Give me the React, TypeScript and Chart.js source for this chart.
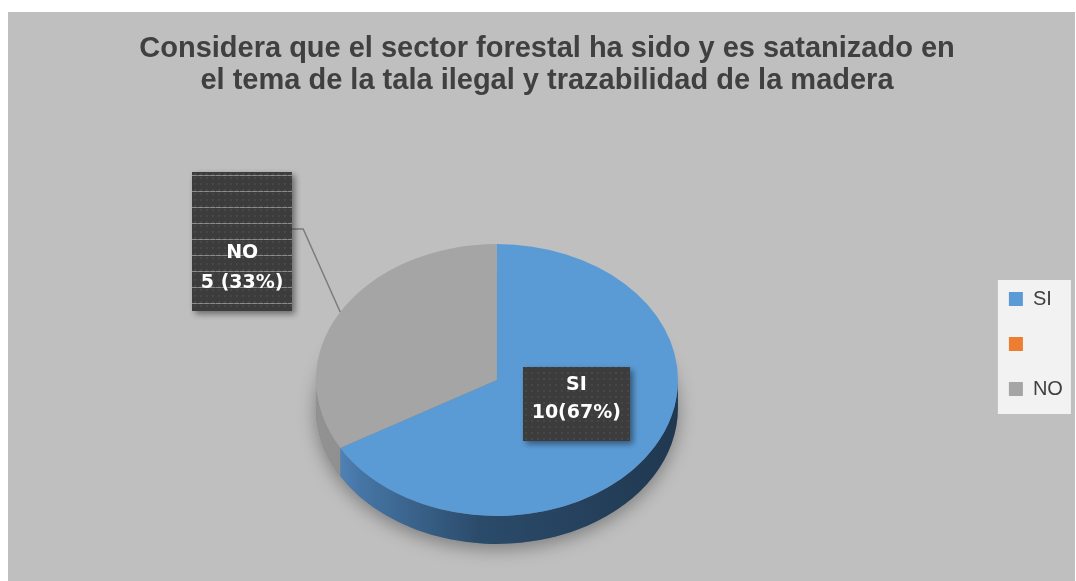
import React, { useEffect, useRef } from 'react';
import Chart from 'chart.js/auto';

// ---------- data ----------
const titleLines = [
  'Considera que el sector forestal ha sido y es satanizado en',
  'el tema de la tala ilegal y trazabilidad de la madera',
];
const categories = ['SI', '', 'NO'];
const counts = [10, 0, 5];
const sliceColors = ['#5b9bd5', '#ed7d31', '#a5a5a5'];
const valueSeparators = ['', '', ' '];

// ---------- layout / style ----------
const CANVAS_W = 1076;
const CANVAS_H = 569;
const PANEL_W = 1067;
const TILT = 0.751;
const DEPTH = 28;

const sideGradients: [number, string][][] = [
  [[0, '#5b90c4'], [0.12, '#4676a6'], [0.45, '#2b4b6b'], [1, '#203850']],
  [[0, '#c06428'], [1, '#7a3d14']],
  [[0, '#929292'], [1, '#747474']],
];

type LabelLayout = {
  kind: 'inside' | 'callout';
  r?: number;
  dx: number;
  dy: number;
  w: number;
  h: number;
  firstLine: number;
  gap: number;
  stripes: boolean;
  leaderDy?: number;
  elbow?: number;
};

const labelLayouts: (LabelLayout | null)[] = [
  { kind: 'inside', r: 0.5, dx: 1, dy: -10, w: 107, h: 74, firstLine: -19, gap: 28, stripes: false },
  null,
  { kind: 'callout', dx: -98, dy: -70.5, w: 100, h: 139, firstLine: 11.5, gap: 30, stripes: true, leaderDy: -12.5, elbow: 11 },
];

function makeBoxFill(ctx: CanvasRenderingContext2D, stripes: boolean, ox: number, oy: number) {
  const t = document.createElement('canvas');
  t.width = 6;
  t.height = stripes ? 16 : 6;
  const c = t.getContext('2d')!;
  c.fillStyle = '#3c3c3c';
  c.fillRect(0, 0, t.width, t.height);
  c.fillStyle = '#474747';
  for (let yy = 2; yy < t.height; yy += 6) c.fillRect(2, yy, 2, 2);
  if (stripes) {
    c.fillStyle = '#8c8c8c';
    c.fillRect(0, 0, 5, 1);
    c.fillStyle = '#6a6a6a';
    c.fillRect(5, 0, 1, 1);
  }
  const pat = ctx.createPattern(t, 'repeat')!;
  pat.setTransform(new DOMMatrix([1, 0, 0, 1, ox, oy]));
  return pat;
}

function drawSides(chart: any) {
  const meta = chart.getDatasetMeta(0);
  const arcs = meta.data;
  if (!arcs.length) return;
  const ctx: CanvasRenderingContext2D = chart.ctx;
  const { x: cx, y: cy, outerRadius: R } = arcs[0];
  const ry = R * TILT;

  // soft shadow under the pie
  ctx.save();
  ctx.shadowColor = 'rgba(0,0,0,0.35)';
  ctx.shadowBlur = 18;
  ctx.shadowOffsetY = 5;
  ctx.fillStyle = '#7a7a7a';
  ctx.beginPath();
  ctx.ellipse(cx, cy + DEPTH, R, ry, 0, 0, Math.PI * 2);
  ctx.fill();
  ctx.restore();

  arcs.forEach((arc: any, i: number) => {
    const s = arc.startAngle;
    const e = arc.endAngle;
    if (e - s <= 0) return;
    for (const base of [-2 * Math.PI, 0, 2 * Math.PI]) {
      const a = Math.max(s, base);
      const b = Math.min(e, base + Math.PI);
      if (b <= a) continue;
      const grad = ctx.createLinearGradient(cx - R, 0, cx + R, 0);
      sideGradients[i].forEach(([o, c]) => grad.addColorStop(o, c));
      ctx.fillStyle = grad;
      ctx.beginPath();
      ctx.ellipse(cx, cy, R, ry, 0, a - base, b - base, false);
      ctx.ellipse(cx, cy + DEPTH, R, ry, 0, b - base, a - base, true);
      ctx.closePath();
      ctx.fill();
    }
  });
}

function drawLabels(chart: any) {
  const ctx: CanvasRenderingContext2D = chart.ctx;
  const meta = chart.getDatasetMeta(0);
  const data: number[] = chart.data.datasets[0].data;
  const total = data.reduce((a, b) => a + b, 0);
  meta.data.forEach((arc: any, i: number) => {
    const v = data[i];
    const p = labelLayouts[i];
    if (!v || !p) return;
    const { x: cx, y: cy, outerRadius: R } = arc;
    const mid = (arc.startAngle + arc.endAngle) / 2;
    let bx: number;
    let by: number;
    ctx.save();
    if (p.kind === 'callout') {
      const ex = cx + R * Math.cos(mid);
      const ey = cy + R * TILT * Math.sin(mid);
      bx = ex + p.dx;
      by = ey + p.dy;
      const right = bx + p.w / 2;
      ctx.strokeStyle = '#7c7c7c';
      ctx.lineWidth = 1.5;
      ctx.beginPath();
      ctx.moveTo(ex, ey);
      ctx.lineTo(right + (p.elbow || 0), by + (p.leaderDy || 0));
      ctx.lineTo(right, by + (p.leaderDy || 0));
      ctx.stroke();
    } else {
      bx = cx + (p.r || 0.5) * R * Math.cos(mid) + p.dx;
      by = cy + (p.r || 0.5) * R * TILT * Math.sin(mid) + p.dy;
    }
    const x0 = Math.round(bx - p.w / 2);
    const y0 = Math.round(by - p.h / 2);
    ctx.save();
    ctx.shadowColor = 'rgba(0,0,0,0.45)';
    ctx.shadowBlur = 6;
    ctx.shadowOffsetX = 3;
    ctx.shadowOffsetY = 3;
    ctx.fillStyle = makeBoxFill(ctx, p.stripes, x0, y0 + 3);
    ctx.fillRect(x0, y0, p.w, p.h);
    ctx.restore();

    const pct = Math.round((v / total) * 100);
    const lines = [String(chart.data.labels[i]), `${v}${valueSeparators[i]}(${pct}%)`];
    ctx.fillStyle = '#ffffff';
    ctx.font = "bold 19px 'DejaVu Sans', sans-serif";
    ctx.textAlign = 'center';
    ctx.textBaseline = 'middle';
    lines.forEach((ln, k) => ctx.fillText(ln, bx, by + p.firstLine + k * p.gap));
    ctx.restore();
  });
}

const panelPlugin = {
  id: 'panelBg',
  beforeDraw(chart: any) {
    const ctx: CanvasRenderingContext2D = chart.ctx;
    ctx.save();
    ctx.fillStyle = '#bfbfbf';
    ctx.fillRect(0, 0, PANEL_W, chart.height);
    const lg = chart.legend;
    if (lg && lg.legendHitBoxes && lg.legendHitBoxes.length) {
      const hbs = lg.legendHitBoxes;
      const first = hbs[0];
      const last = hbs[hbs.length - 1];
      const h = last.top + last.height - first.top + 24;
      ctx.fillStyle = '#f2f2f2';
      ctx.fillRect(first.left - 11, first.top - 9, 73, h);
    }
    ctx.restore();
  },
};

const pie3dPlugin = {
  id: 'pie3d',
  beforeDatasetsDraw(chart: any) {
    drawSides(chart);
    const arc = chart.getDatasetMeta(0).data[0];
    const ctx: CanvasRenderingContext2D = chart.ctx;
    ctx.save();
    ctx.translate(arc.x, arc.y);
    ctx.scale(1, TILT);
    ctx.translate(-arc.x, -arc.y);
  },
  afterDatasetsDraw(chart: any) {
    chart.ctx.restore();
    drawLabels(chart);
  },
};

export default function App() {
  const ref = useRef<HTMLCanvasElement>(null);
  useEffect(() => {
    const canvas = ref.current;
    if (!canvas) return;
    const ov: any = (Chart as any).overrides;
    const baseGen = (ov.pie && ov.pie.plugins && ov.pie.plugins.legend && ov.pie.plugins.legend.labels.generateLabels) ||
      ov.doughnut.plugins.legend.labels.generateLabels;
    const chart = new Chart(canvas, {
      type: 'pie',
      data: {
        labels: categories,
        datasets: [{ data: counts, backgroundColor: sliceColors, borderWidth: 0, hoverOffset: 0 }],
      },
      options: {
        responsive: false,
        animation: false,
        events: [],
        layout: { padding: { left: 2, right: 0, top: 0, bottom: 20 } },
        plugins: {
          tooltip: { enabled: false },
          title: {
            display: true,
            text: titleLines,
            color: '#404040',
            font: { family: "'Liberation Sans', Arial, sans-serif", size: 29, weight: 'bold', lineHeight: 32 / 29 },
            padding: { top: 20.5, bottom: 102.5 },
          },
          legend: {
            display: true,
            position: 'right',
            align: 'start',
            title: { display: true, text: '', padding: { top: 240, bottom: 0 }, font: { size: 10, lineHeight: 1.2 } },
            labels: {
              boxWidth: 14,
              boxHeight: 14,
              padding: 25,
              color: '#404040',
              font: { family: "'Liberation Sans', Arial, sans-serif", size: 20 },
              generateLabels: (c: any) =>
                baseGen(c).map((it: any) => ({ ...it, text: it.text + '  ', lineWidth: 0 })),
            },
          },
        },
      } as any,
      plugins: [panelPlugin, pie3dPlugin],
    });
    return () => chart.destroy();
  }, []);
  return (
    <div style={{ position: 'fixed', left: 8, top: 12, width: CANVAS_W, height: CANVAS_H }}>
      <canvas ref={ref} width={CANVAS_W} height={CANVAS_H} style={{ display: 'block' }} />
    </div>
  );
}
